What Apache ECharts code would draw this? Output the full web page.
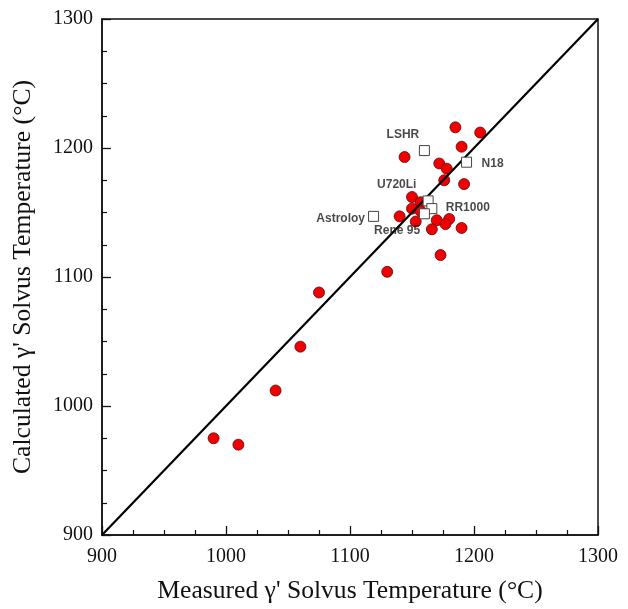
<!DOCTYPE html>
<html>
<head>
<meta charset="utf-8">
<script src="https://cdn.jsdelivr.net/npm/echarts@6/dist/echarts.min.js"></script>
<style>
  html, body { margin: 0; padding: 0; background: #fff; }
  #chart { width: 628px; height: 609px; }
</style>
</head>
<body>
<div id="chart"></div>
<script>
// measured vs calculated gamma' solvus (°C)
const measuredAlloys = [
  990, 1010, 1040, 1060, 1075, 1130,
  1185, 1205, 1190, 1144, 1172, 1178, 1176, 1192,
  1150, 1157, 1150, 1157, 1140, 1153, 1170, 1180, 1177, 1166, 1190, 1173
]
const calculatedAlloys = [
  975, 970, 1012, 1046, 1088, 1104,
  1216, 1212, 1201, 1193, 1188, 1184, 1175, 1172,
  1162, 1158, 1153, 1151, 1147, 1143, 1144, 1145, 1141, 1137, 1138, 1117
]
// commercial alloys (open squares)
const measuredRef   = [1160, 1194, 1119, 1163, 1166, 1160]
const calculatedRef = [1198, 1189, 1147, 1159, 1153, 1149]

// annotation text and where it sits (data coords)
const labelNames = ['LSHR', 'N18', 'U720Li', 'RR1000', 'Astroloy', 'Rene 95']
const labelX = [1142.7, 1215, 1137.7, 1195, 1092.5, 1138]
const labelY = [1210.3, 1188, 1171.6, 1154, 1145.3, 1136]

const parityLine = [[900, 900], [1300, 1300]]
const tickValues = [900, 1000, 1100, 1200, 1300]

const chart = echarts.init(document.getElementById('chart'))

const axisCommon = {
  type: 'value',
  min: 900,
  max: 1300,
  interval: 100,
  nameLocation: 'middle',
  nameTextStyle: { fontFamily: 'Liberation Serif', fontSize: 25.6, color: '#111' },
  axisLine: { show: true, lineStyle: { color: '#111', width: 1.5 } },
  axisTick: { show: true, inside: true, length: 9, lineStyle: { color: '#111', width: 1.3 } },
  minorTick: { show: true, splitNumber: 4, length: 5, lineStyle: { color: '#111', width: 1.2 } },
  splitLine: { show: false },
  axisLabel: {
    fontFamily: 'Liberation Serif',
    fontSize: 20,
    color: '#111',
    formatter: v => tickValues.includes(v) ? String(v) : ''
  }
}

chart.setOption({
  animation: false,
  backgroundColor: '#fff',
  grid: {
    left: 102, right: 30, top: 19, bottom: 73,
    show: true, borderColor: '#111', borderWidth: 1.5, backgroundColor: 'transparent'
  },
  xAxis: {
    ...axisCommon,
    name: "Measured γ' Solvus Temperature (°C)",
    nameGap: 43,
    axisLabel: { ...axisCommon.axisLabel, margin: 12 }
  },
  yAxis: {
    ...axisCommon,
    name: "Calculated γ' Solvus Temperature (°C)",
    nameGap: 66,
    axisLabel: { ...axisCommon.axisLabel, margin: 9 }
  },
  series: [
    {
      type: 'scatter',
      z: 2,
      symbol: 'circle',
      symbolSize: 11,
      itemStyle: { color: '#f00000', borderColor: '#5a0a0a', borderWidth: 0.8, opacity: 1 },
      data: measuredAlloys.map((m, i) => [m, calculatedAlloys[i]])
    },
    {
      type: 'line',
      z: 3,
      symbol: 'none',
      lineStyle: { color: '#000', width: 2.2 },
      data: parityLine
    },
    {
      type: 'scatter',
      z: 4,
      symbol: 'rect',
      symbolSize: 10,
      itemStyle: { color: '#fff', borderColor: '#444', borderWidth: 1, opacity: 1 },
      data: measuredRef.map((m, i) => [m, calculatedRef[i]])
    },
    {
      type: 'scatter',
      z: 5,
      symbolSize: 0,
      silent: true,
      label: {
        show: true,
        position: 'inside',
        formatter: p => p.data.name,
        fontFamily: 'Liberation Sans',
        fontWeight: 'bold',
        fontSize: 12,
        color: '#1a1a1a'
      },
      data: labelNames.map((n, i) => ({ name: n, value: [labelX[i], labelY[i]] }))
    }
  ]
})
</script>
</body>
</html>
